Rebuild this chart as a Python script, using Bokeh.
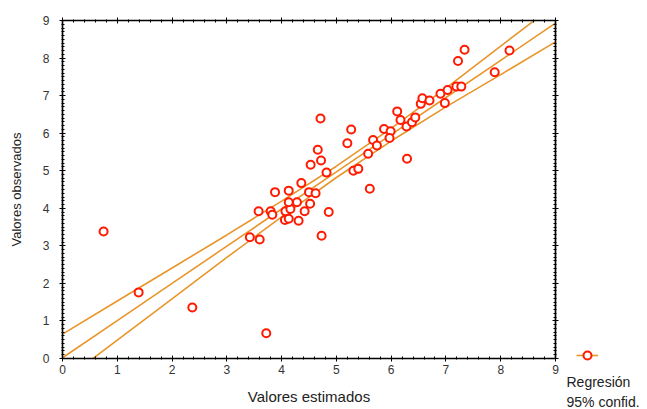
import numpy as np
from bokeh.plotting import figure
from bokeh.layouts import row
from bokeh.models import (Range1d, FixedTicker, LinearAxis, Legend, LegendItem, Label,
                          ColumnDataSource)
from bokeh.embed import file_html
from bokeh.resources import INLINE

# ---- data ----
est = [0.75, 1.39, 2.37, 3.72, 3.42, 3.60, 3.58, 3.80, 3.83, 3.88,
       4.06, 4.13, 4.07, 4.16, 4.13, 4.28, 4.13, 4.31, 4.42, 4.52,
       4.50, 4.62, 4.36, 4.73, 4.86, 4.82, 4.53, 4.72, 4.66, 4.71,
       5.27, 5.20, 5.31, 5.40, 5.58, 5.61, 5.67, 5.74, 5.87, 5.99,
       5.97, 6.11, 6.17, 6.28, 6.29, 6.38, 6.44, 6.54, 6.57, 6.70,
       6.90, 6.98, 7.03, 7.19, 7.28, 7.22, 7.34, 7.89, 8.16]
obs = [3.38, 1.76, 1.36, 0.67, 3.23, 3.17, 3.92, 3.92, 3.83, 4.43,
       3.69, 3.72, 3.92, 3.98, 4.16, 4.16, 4.47, 3.67, 3.92, 4.12,
       4.43, 4.40, 4.67, 3.27, 3.90, 4.95, 5.16, 5.27, 5.56, 6.39,
       6.10, 5.73, 5.00, 5.05, 5.45, 4.52, 5.82, 5.67, 6.11, 6.05,
       5.87, 6.58, 6.35, 6.18, 5.32, 6.29, 6.42, 6.78, 6.93, 6.87,
       7.05, 6.80, 7.15, 7.24, 7.24, 7.92, 8.22, 7.62, 8.20]

band_x = [0, 1, 2, 3, 4, 5, 6, 7, 8, 9]
fit_y = [0.02, 1.01, 2.00, 2.99, 3.98, 4.97, 5.96, 6.95, 7.94, 8.93]
upper_y = [0.65, 1.53, 2.41, 3.29, 4.19, 5.12, 6.13, 7.20, 8.32, 9.43]
lower_y = [-0.61, 0.49, 1.59, 2.69, 3.77, 4.82, 5.79, 6.70, 7.56, 8.43]

ticks = [0, 1, 2, 3, 4, 5, 6, 7, 8, 9]
x_label = "Valores estimados"
y_label = "Valores observados"
legend_lines = ["Regresión", "95% confid."]

FONT = "Liberation Sans"
LINE_C = "#E8952A"
PT_C = "#FF1A00"

p = figure(width=563, height=409, x_range=Range1d(0, 9), y_range=Range1d(0, 9),
           output_backend="svg", toolbar_location=None,
           min_border_left=62, min_border_right=8, min_border_top=20,
           min_border_bottom=51)
p.grid.visible = False
p.outline_line_color = "black"
p.outline_line_width = 1.2
p.background_fill_color = "white"
p.border_fill_color = "white"

xminor = list(np.arange(0, 9.001, 0.2))
yminor = list(np.arange(0, 9.001, 0.1))

def style(ax, minor, show_labels=True):
    ax.ticker = FixedTicker(ticks=ticks, minor_ticks=minor)
    ax.axis_line_color = "black"
    ax.axis_line_width = 1.5
    ax.major_tick_line_color = "black"
    ax.minor_tick_line_color = "black"
    ax.major_tick_in = 3
    ax.major_tick_out = 3
    ax.minor_tick_in = 2
    ax.minor_tick_out = 1
    ax.major_label_text_font = FONT
    ax.major_label_text_font_size = "12px"
    ax.major_label_text_color = "#333333"
    ax.axis_label_text_font = FONT
    ax.axis_label_text_font_style = "normal"
    ax.axis_label_text_color = "#222222"
    if not show_labels:
        ax.major_label_overrides = {t: "" for t in ticks}
        ax.major_label_standoff = 0

xa = p.xaxis[0]
ya = p.yaxis[0]
style(xa, xminor)
style(ya, yminor)
xa.axis_label = x_label
xa.axis_label_text_font_size = "15px"
xa.major_label_standoff = 3
xa.axis_label_standoff = 11
ya.axis_label = y_label
ya.axis_label_text_font_size = "13px"
ya.major_label_standoff = 10
ya.axis_label_standoff = 16

top = LinearAxis()
style(top, xminor, show_labels=False)
p.add_layout(top, "above")
right = LinearAxis()
style(right, yminor, show_labels=False)
p.add_layout(right, "right")

src_band = ColumnDataSource(dict(x=band_x, fit=fit_y, up=upper_y, lo=lower_y))
p.line("x", "fit", source=src_band, line_color=LINE_C, line_width=1.6)
p.line("x", "up", source=src_band, line_color=LINE_C, line_width=1.6)
p.line("x", "lo", source=src_band, line_color=LINE_C, line_width=1.6)

src_pts = ColumnDataSource(dict(x=est, y=obs))
p.scatter("x", "y", source=src_pts, marker="circle", size=8,
          fill_color="white", fill_alpha=1.0, line_color=PT_C, line_width=2)

# ---- side panel holding the legend (its ranges keep its own data out of view) ----
side = figure(width=84, height=409, x_range=Range1d(100, 101), y_range=Range1d(100, 101),
              output_backend="svg", toolbar_location=None,
              x_axis_location=None, y_axis_location=None,
              min_border_left=0, min_border_right=0, min_border_top=0,
              min_border_bottom=0)
if "frame_align" in side.properties():
    side.frame_align = False
    p.frame_align = False
side.grid.visible = False
side.outline_line_color = None
side.background_fill_color = "white"
side.border_fill_color = "white"

lg_line = side.line("x", "fit", source=src_band, line_color=LINE_C, line_width=1.6)
lg_pt = side.scatter("x", "y", source=src_pts, marker="circle", size=8,
                     fill_color="white", line_color=PT_C, line_width=2)

legend = Legend(items=[LegendItem(label=" ", renderers=[lg_line, lg_pt])],
                location=(13, 44), padding=0, margin=0, spacing=0,
                glyph_width=22, glyph_height=20, label_standoff=0,
                label_text_font_size="1px", border_line_alpha=0,
                background_fill_alpha=0)
side.add_layout(legend, "center")

side.add_layout(Label(x=3, y=28, x_units="screen", y_units="screen",
                      text=legend_lines[0], text_font=FONT, text_font_size="14px",
                      text_color="#222222", text_baseline="middle"))
side.add_layout(Label(x=3, y=8, x_units="screen", y_units="screen",
                      text=legend_lines[1], text_font=FONT, text_font_size="14px",
                      text_color="#222222", text_baseline="middle"))

layout = row(p, side, spacing=0)
open("out.html", "w").write(file_html(layout, INLINE))
